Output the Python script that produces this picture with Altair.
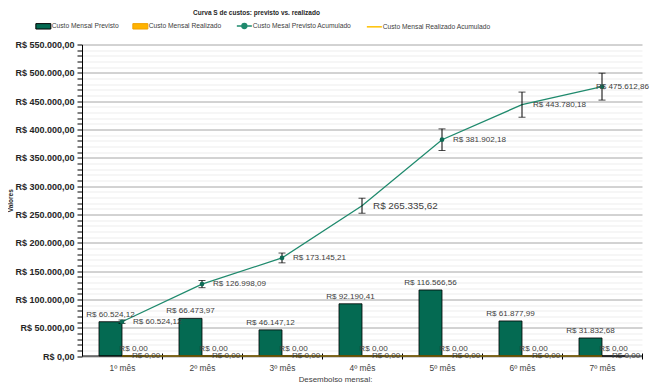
import altair as alt
import pandas as pd

months = ["1º mês", "2º mês", "3º mês", "4º mês", "5º mês", "6º mês", "7º mês"]
custo_previsto = [60524.12, 66473.97, 46147.12, 92190.41, 116566.56, 61877.99, 31832.68]
custo_realizado = [0.0, 0.0, 0.0, 0.0, 0.0, 0.0, 0.0]
previsto_acumulado = [60524.12, 126998.09, 173145.21, 265335.62, 381902.18, 443780.18, 475612.86]
realizado_acumulado = [0.0, 0.0, 0.0, 0.0, 0.0, 0.0, 0.0]
marker_months = ["1º mês", "2º mês", "3º mês", "5º mês", "7º mês"]
chart_title = "Curva S de custos: previsto vs. realizado"

S_PREV = "Custo Mensal Previsto"
S_REAL = "Custo Mensal Realizado"
S_PACC = "Custo Mesal Previsto Acumulado"
S_RACC = "Custo Mensal Realizado Acumulado"
series_names = [S_PREV, S_REAL, S_PACC, S_RACC]
series_colors = ["#046A52", "#FFB300", "#1F8A6D", "#FFC000"]

rows = []
for name, vals in [(S_PREV, custo_previsto), (S_REAL, custo_realizado),
                   (S_PACC, previsto_acumulado), (S_RACC, realizado_acumulado)]:
    for m, v in zip(months, vals):
        rows.append({"month": m, "series": name, "value": v,
                     "marker": m in marker_months})
df = pd.DataFrame(rows)

FONT = "Liberation Sans"
TXT = "#404040"

x_axis = alt.Axis(
    title="Desembolso mensal:", domain=False, offset=-3, tickSize=6,
    tickColor="#000000", tickOffset=40, labelOffset=-40, labelPadding=4,
    labelFontSize=8.4, labelAngle=0, labelColor=TXT, labelFont=FONT,
    titleFontSize=7.9, titleFontWeight="normal", titlePadding=4, titleX=253,
    titleColor=TXT, titleFont=FONT, grid=False,
)
x_enc = alt.X("month:N", sort=months,
              scale=alt.Scale(domain=months, paddingInner=0, paddingOuter=0),
              axis=x_axis)

y_axis = alt.Axis(
    values=list(range(0, 550001, 10000)),
    format="$,.2f",
    labelExpr="datum.value % 50000 === 0 ? datum.label : ''",
    labelOverlap=False, labelFont=FONT, labelFontSize=9, labelFontWeight="bold",
    labelColor="#262626", labelPadding=3, tickSize=5, tickColor="#000000",
    domainColor="#000000",
    gridColor={"condition": {"test": "datum.value % 50000 === 0", "value": "#A6A6A6"},
               "value": "#EDEDED"},
    title="Valores", titleFontSize=6.5, titleFontWeight="bold", titleX=-69,
    titleColor="#262626", titleFont=FONT,
)
y_scale = alt.Scale(domain=[0, 550000], nice=False)
y_enc = alt.Y("value:Q", scale=y_scale, axis=y_axis)

off_enc = alt.XOffset("series:N", scale=alt.Scale(domain=[S_PREV, S_REAL],
                                                   paddingInner=0, paddingOuter=0.739))

rect_path = "M-1,-0.36H1V0.36H-1Z"
dot_path = "M-1,0H1M-0.32,0A0.32,0.32,0,1,1,0.32,0A0.32,0.32,0,1,1,-0.32,0"
line_path = "M-1,0H1"

is_rect = f"(datum.value === '{S_PREV}' || datum.value === '{S_REAL}')"
legend = alt.Legend(
    title=None, orient="none", legendX=-42, legendY=-22, direction="horizontal",
    columns=4, columnPadding=11, labelOffset=5, labelFontSize=6.7, labelColor=TXT,
    labelFont=FONT, symbolSize=225, padding=0, symbolOpacity=1,
    symbolType={"expr": f"{is_rect} ? '{rect_path}' : (datum.value === '{S_PACC}' ? '{dot_path}' : '{line_path}')"},
    symbolFillColor={"expr": f"datum.value === '{S_PREV}' ? '{series_colors[0]}' : (datum.value === '{S_REAL}' ? '{series_colors[1]}' : (datum.value === '{S_PACC}' ? '{series_colors[2]}' : 'transparent'))"},
    symbolStrokeColor={"expr": f"datum.value === '{S_PREV}' ? '#000000' : (datum.value === '{S_REAL}' ? '#F0A000' : (datum.value === '{S_PACC}' ? '{series_colors[2]}' : '{series_colors[3]}'))"},
    symbolStrokeWidth={"expr": f"{is_rect} ? 1 : 1.5"},
)

base = alt.Chart(df)
bars_src = base.transform_filter(
    alt.FieldOneOfPredicate(field="series", oneOf=[S_PREV, S_REAL]))

bars = bars_src.mark_bar(stroke="#000000", strokeWidth=0.8).encode(
    x=x_enc, xOffset=off_enc, y=y_enc,
    color=alt.Color("series:N", scale=alt.Scale(domain=series_names, range=series_colors),
                    legend=legend),
)

bar_labels = bars_src.mark_text(baseline="bottom", dy=-3, fontSize=8.1, color=TXT,
                                font=FONT).encode(
    x=x_enc, xOffset=off_enc, y=y_enc,
    text=alt.Text("value:Q", format="$,.2f"),
)

pacc = base.transform_filter(alt.datum.series == S_PACC)
racc = base.transform_filter(alt.datum.series == S_RACC)

line_real = racc.mark_line(color=series_colors[3], strokeWidth=1.5).encode(x=x_enc, y=y_enc)
line_prev = pacc.mark_line(color=series_colors[2], strokeWidth=1.3).encode(x=x_enc, y=y_enc)

err = pacc.transform_calculate(lo="datum.value * 0.95", hi="datum.value * 1.05")
err_rule = err.mark_rule(color="#000000", strokeWidth=1).encode(
    x=x_enc, y=alt.Y("lo:Q", scale=y_scale, axis=y_axis), y2="hi:Q")
err_lo = err.mark_tick(color="#000000", size=7, thickness=1).encode(
    x=x_enc, y=alt.Y("lo:Q", scale=y_scale, axis=y_axis))
err_hi = err.mark_tick(color="#000000", size=7, thickness=1).encode(
    x=x_enc, y=alt.Y("hi:Q", scale=y_scale, axis=y_axis))

points = pacc.transform_filter(alt.datum.marker == True).mark_point(
    filled=True, size=22, color="#0E6B55", opacity=1).encode(x=x_enc, y=y_enc)

zero_line = alt.Chart(pd.DataFrame({"z": [0]})).mark_rule(
    color="#000000", strokeWidth=1).encode(y=alt.Y("z:Q", scale=y_scale, axis=y_axis))

prev_labels = pacc.transform_filter(alt.datum.month != months[-1]).mark_text(
    align="left", baseline="middle", dx=11, color=TXT, font=FONT).encode(
    x=x_enc, y=y_enc, text=alt.Text("value:Q", format="$,.2f"),
    size=alt.condition(alt.datum.month == months[3], alt.value(9.9), alt.value(8.1)),
)
prev_label_last = pacc.transform_filter(alt.datum.month == months[-1]).mark_text(
    align="left", baseline="middle", dx=-6, fontSize=8.1, color=TXT, font=FONT).encode(
    x=x_enc, y=y_enc, text=alt.Text("value:Q", format="$,.2f"))

real_labels = racc.mark_text(align="left", baseline="middle", dx=10, fontSize=8.1,
                             color=TXT, font=FONT).encode(
    x=x_enc, y=y_enc, text=alt.Text("value:Q", format="$,.2f"))

border = alt.Chart(pd.DataFrame({"z": [0]})).mark_rule(color="#A0A0A0", strokeWidth=1).encode(
    x=alt.value(571.5), y=alt.value(-44.5), y2=alt.value(331))

title_text = alt.Chart(pd.DataFrame({"t": [chart_title]})).mark_text(
    align="center", baseline="middle", fontSize=6.5, fontWeight="bold",
    color="#262626", font=FONT).encode(
    text="t:N", x=alt.value(174.5), y=alt.value(-32))

chart = alt.layer(
    bars, line_real, line_prev, err_rule, err_lo, err_hi, points, zero_line,
    bar_labels, prev_labels, prev_label_last, real_labels, border, title_text,
).properties(
    width=560, height=311.5,
    autosize=alt.AutoSizeParams(type="none"),
    padding={"left": 74, "top": 36.5, "right": 9, "bottom": 27},
).configure(
    font=FONT,
    locale={"number": {"decimal": ",", "thousands": ".", "grouping": [3],
                       "currency": ["R$ ", ""]}},
).configure_view(stroke=None)

chart.save("out.html", embed_options={"renderer": "svg", "actions": False})
